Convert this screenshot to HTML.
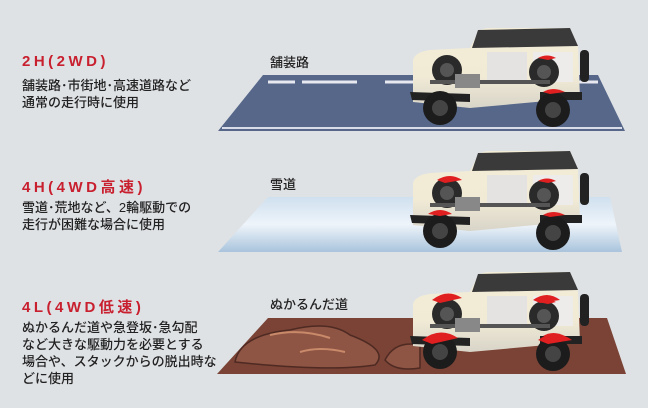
<!DOCTYPE html>
<html><head><meta charset="utf-8"><style>
body{margin:0;width:648px;height:408px;background:#dfe2e5;position:relative;overflow:hidden;font-family:"Liberation Sans","Noto Sans CJK JP",sans-serif}
.t{position:absolute;left:22px;color:#c8202f;font-weight:bold;font-size:15px;letter-spacing:3.5px}
.d{position:absolute;left:22px;color:#222;font-size:13px;line-height:17px;font-weight:500}
.l{position:absolute;color:#222;font-size:13px;font-weight:500}
svg{position:absolute;left:0;top:0}
</style></head><body>
<svg width="648" height="408">
<defs>
<linearGradient id="sn" x1="0" y1="0" x2="0" y2="1"><stop offset="0" stop-color="#cfe0ee"/><stop offset=".5" stop-color="#eef4fa"/><stop offset="1" stop-color="#a9c4dc"/></linearGradient>
<linearGradient id="bd" x1="0" y1="0" x2="0" y2="1"><stop offset="0" stop-color="#f3edd8"/><stop offset=".6" stop-color="#f1ebd6"/><stop offset="1" stop-color="#d8d4c8"/></linearGradient>
<g id="car">
<path d="M413 60 Q415 52 430 50 L470 48 L478 32 Q482 28 490 28 L570 28 L578 47 L580 98 L470 108 L413 102 Z" fill="url(#bd)"/>
<path d="M478 30 L570 28 L578 46 L472 48 Z" fill="#3a3a3a"/>
<rect x="487" y="52" width="40" height="32" fill="#e2e2e2" opacity=".9"/>
<rect x="533" y="52" width="40" height="30" fill="#ececec" opacity=".9"/>
<rect x="580" y="50" width="9" height="32" rx="4" fill="#222"/>
<circle cx="447" cy="70" r="15" fill="#2a2a2a"/><circle cx="544" cy="72" r="15" fill="#2a2a2a"/>
<circle cx="447" cy="70" r="7" fill="#555"/><circle cx="544" cy="72" r="7" fill="#555"/>
<rect x="430" y="80" width="120" height="4" fill="#555"/>
<rect x="455" y="74" width="25" height="14" fill="#888"/>
<path d="M410 92 L470 94 L470 102 L412 100Z" fill="#222"/>
<rect x="540" y="92" width="42" height="8" fill="#222"/>
<circle cx="440" cy="108" r="17" fill="#1c1c1c"/><circle cx="440" cy="108" r="8" fill="#444"/>
<circle cx="553" cy="110" r="17" fill="#1c1c1c"/><circle cx="553" cy="110" r="8" fill="#444"/>
<path d="M538 58 Q547 53 556 58 L548 60Z" fill="#e02020"/>
<path d="M543 92 Q553 86 565 92 L550 94Z" fill="#e02020"/>
</g>
</defs>
<polygon points="263,75 598,75 625,131 218,131" fill="#56678a"/>
<g stroke="#e8e8f0" stroke-width="3"><line x1="268" y1="82" x2="295" y2="82"/><line x1="302" y1="82" x2="357" y2="82"/><line x1="385" y1="82" x2="413" y2="82"/><line x1="572" y1="82" x2="598" y2="82"/></g>
<line x1="222" y1="128" x2="622" y2="128" stroke="#d8dce8" stroke-width="2"/>
<use href="#car"/>
<polygon points="268,197 610,197 622,252 218,252" fill="url(#sn)"/>
<use href="#car" transform="translate(0,123)"/>
<path d="M437 180 Q450 172 462 180 L445 183Z M428 214 Q440 206 452 214 L440 216Z" fill="#e02020"/>
<polygon points="268,318 607,318 626,374 217,374" fill="#7a4336"/>
<path d="M235 362 Q240 335 290 330 Q330 320 350 335 Q390 350 375 365 Q330 372 235 362Z" fill="#8e5444" stroke="#4e2a22" stroke-width="1.5"/>
<path d="M385 360 Q395 340 420 345 L420 368 Q395 372 385 360Z" fill="#8e5444" stroke="#4e2a22" stroke-width="1.5"/>
<path d="M270 335 Q300 328 330 338 M300 352 Q320 346 345 352" stroke="#c98a6a" stroke-width="2" fill="none"/>
<use href="#car" transform="translate(0,244)"/>
<path d="M432 300 Q447 288 462 298 L440 303Z M422 340 Q440 326 458 338 L432 344Z M533 300 Q547 290 560 300 L540 303Z M538 340 Q555 328 572 340 L548 344Z" fill="#e02020"/>
</svg>
<div class="t" style="top:53px">2H(2WD)</div>
<div class="d" style="top:77px">舗装路･市街地･高速道路など<br>通常の走行時に使用</div>
<div class="t" style="top:176px">4H(4WD高速)</div>
<div class="d" style="top:199px">雪道･荒地など、2輪駆動での<br>走行が困難な場合に使用</div>
<div class="t" style="top:296px">4L(4WD低速)</div>
<div class="d" style="top:319px">ぬかるんだ道や急登坂･急勾配<br>など大きな駆動力を必要とする<br>場合や、スタックからの脱出時な<br>どに使用</div>
<div class="l" style="left:270px;top:52px">舗装路</div>
<div class="l" style="left:270px;top:174px">雪道</div>
<div class="l" style="left:270px;top:294px">ぬかるんだ道</div>
</body></html>
